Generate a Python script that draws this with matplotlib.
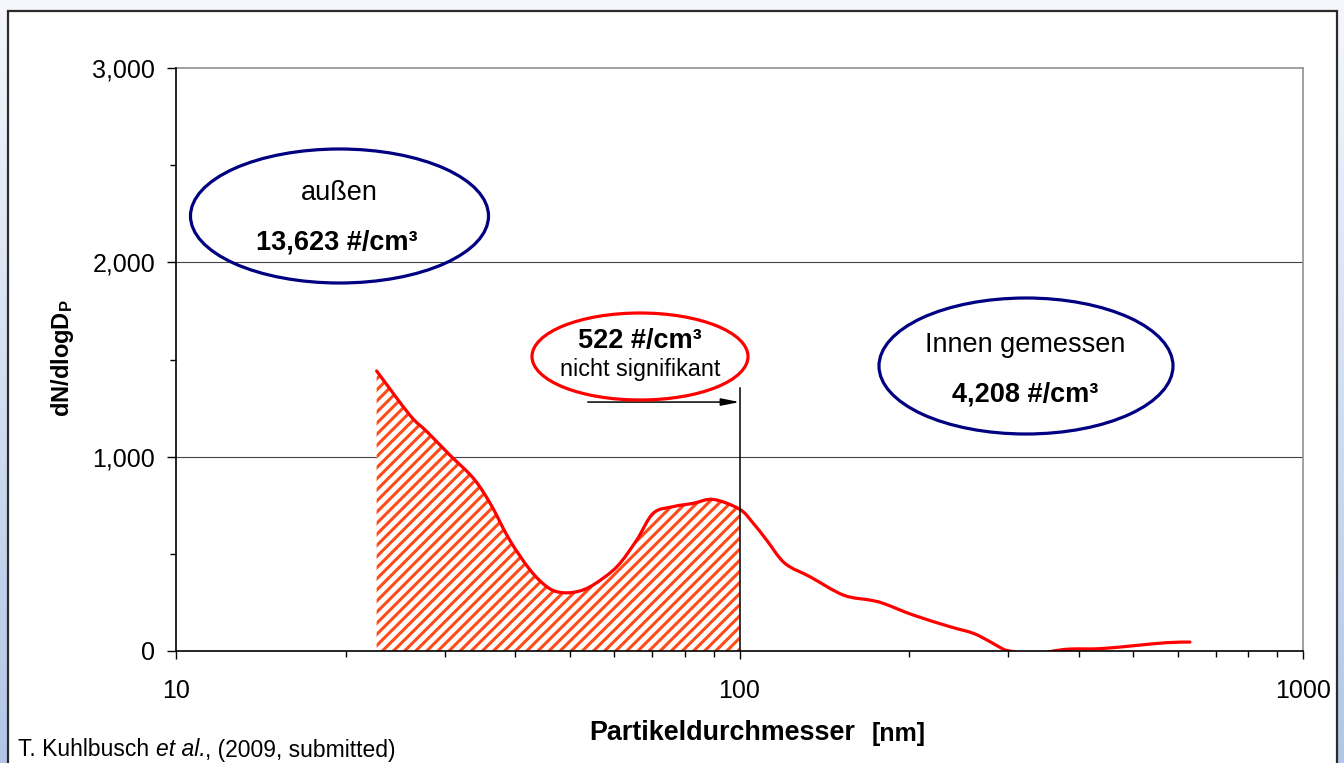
import numpy as np
import matplotlib
matplotlib.use("Agg")
import matplotlib.pyplot as plt
from matplotlib.patches import Ellipse, Rectangle, PathPatch
from matplotlib.path import Path
from matplotlib.ticker import FuncFormatter, FixedLocator, NullFormatter

plt.rcParams['font.family'] = ['Liberation Sans', 'DejaVu Sans']
plt.rcParams['mathtext.fontset'] = 'custom'
plt.rcParams['mathtext.rm'] = 'Liberation Sans'
plt.rcParams['mathtext.it'] = 'Liberation Sans:italic'
plt.rcParams['mathtext.bf'] = 'Liberation Sans:bold'
plt.rcParams['hatch.linewidth'] = 2.2

# ---- data ----
diameter_nm = [22.7, 26.0, 27.9, 30.6, 33.7, 36.1, 39.1, 42.5, 45.5, 48.0, 51.4,
               55.0, 60.6, 65.7, 70.3, 76.3, 82.8, 89.8, 100.0, 105.8, 111.7,
               120.4, 133.4, 152.8, 170.4, 180.0, 203.4, 236.4, 260.0, 278.3,
               293.9, 302.0, 330.0, 360.6, 385.9, 436.2, 499.6, 573.0, 630.0]
dNdlogDp = [1441, 1214, 1128, 1009, 889, 760, 571, 417, 331, 302, 305,
            340, 434, 571, 709, 743, 760, 780, 730, 657, 571,
            451, 382, 288, 262, 245, 185, 125, 91, 48,
            9, 0, -20, 0, 10, 12, 27, 43, 46]
cutoff_nm = 100.0
arrow_start_nm = 53.8
arrow_level = 1281
cutoff_line_top = 1353
y_ticks = [0, 1000, 2000, 3000]
y_minor = [500, 1500, 2500]
x_ticks = [10, 100, 1000]

W, H = 1344, 763
fig = plt.figure(figsize=(W / 100, H / 100), dpi=100)

# background gradient
bg = fig.add_axes([0, 0, 1, 1], zorder=-10)
top_c = np.array([0xf5, 0xf7, 0xfc]) / 255
bot_c = np.array([0xb2, 0xc6, 0xe6]) / 255
t = np.linspace(0, 1, 256)[:, None]
grad = (top_c[None, :] * (1 - t) + bot_c[None, :] * t)[:, None, :]
bg.imshow(grad, extent=[0, 1, 0, 1], aspect='auto', origin='upper')
bg.set_xlim(0, 1); bg.set_ylim(0, 1)
bg.axis('off')
bg.add_patch(Rectangle((7.5 / W, -0.02), (1336.5 - 7.5) / W, 1 - 10.5 / H + 0.02,
                       facecolor='white', edgecolor='#2b2b2b', linewidth=1.6,
                       transform=bg.transAxes))

ax = fig.add_axes([176 / W, 1 - 651 / H, (1303 - 176) / W, (651 - 68) / H])
ax.set_facecolor('white')
ax.set_xscale('log')
ax.set_xlim(10, 1000)
ax.set_ylim(0, 3000)

x = np.array(diameter_nm)
y = np.array(dNdlogDp, dtype=float)


def smooth_segments(xs, ys):
    """Bezier control points (Excel-style smoothed line) in log-x space."""
    u = np.log10(xs)
    n = len(u)
    segs = []
    for i in range(n - 1):
        i0 = max(i - 1, 0)
        i3 = min(i + 2, n - 1)
        c1 = (u[i] + (u[i + 1] - u[i0]) / 6, ys[i] + (ys[i + 1] - ys[i0]) / 6)
        c2 = (u[i + 1] - (u[i3] - u[i]) / 6, ys[i + 1] - (ys[i3] - ys[i]) / 6)
        segs.append((c1, c2, (u[i + 1], ys[i + 1])))
    return segs


def to_data(p):
    return (10 ** p[0], p[1])


segs = smooth_segments(x, y)
verts = [(x[0], y[0])]
codes = [Path.MOVETO]
for c1, c2, p in segs:
    verts += [to_data(c1), to_data(c2), to_data(p)]
    codes += [Path.CURVE4] * 3
curve = PathPatch(Path(verts, codes), facecolor='none', edgecolor='#ff0000',
                  linewidth=2.3, zorder=4, capstyle='round', joinstyle='round')
ax.add_patch(curve)

# hatched area up to cutoff
k = int(np.where(x == cutoff_nm)[0][0])
fverts = [(x[0], 0), (x[0], y[0])]
fcodes = [Path.MOVETO, Path.LINETO]
for c1, c2, p in segs[:k]:
    fverts += [to_data(c1), to_data(c2), to_data(p)]
    fcodes += [Path.CURVE4] * 3
fverts += [(cutoff_nm, 0), (x[0], 0)]
fcodes += [Path.LINETO, Path.CLOSEPOLY]
ax.add_patch(PathPatch(Path(fverts, fcodes), facecolor='white', edgecolor='#ff4a1a',
                       hatch='///', linewidth=0, zorder=2))

ax.plot([cutoff_nm, cutoff_nm], [0, cutoff_line_top], color='black', linewidth=1.1, zorder=5)
ax.annotate('', xy=(cutoff_nm, arrow_level), xytext=(arrow_start_nm, arrow_level),
            arrowprops=dict(arrowstyle='-|>,head_length=1.1,head_width=0.22',
                            color='black', linewidth=1.1, shrinkA=0, shrinkB=0), zorder=5)

# grid / spines / ticks
for yv in y_ticks[1:-1]:
    ax.axhline(yv, color='#444444', linewidth=0.8, zorder=1)
ax.spines['top'].set_color('#999999')
ax.spines['right'].set_color('#999999')
ax.spines['top'].set_linewidth(1.3)
ax.spines['right'].set_linewidth(1.3)
ax.spines['left'].set_linewidth(1.2)
ax.spines['bottom'].set_linewidth(1.2)
for s in ('left', 'bottom'):
    ax.spines[s].set_color('black')
    ax.spines[s].set_zorder(6)

ax.yaxis.set_major_locator(FixedLocator(y_ticks))
ax.yaxis.set_minor_locator(FixedLocator(y_minor))
ax.yaxis.set_major_formatter(FuncFormatter(lambda v, p: f"{int(v):,}"))
ax.xaxis.set_major_locator(FixedLocator(x_ticks))
ax.xaxis.set_major_formatter(FuncFormatter(lambda v, p: f"{int(v)}"))
ax.xaxis.set_minor_formatter(NullFormatter())
ax.tick_params(axis='y', which='major', direction='out', length=6.5, width=1, pad=8.5,
               labelsize=18, color='black')
ax.tick_params(axis='y', which='minor', direction='out', length=4.3, width=1, color='black')
ax.tick_params(axis='x', which='major', direction='out', length=5.8, width=1, pad=14,
               labelsize=18, color='black')
ax.tick_params(axis='x', which='minor', direction='out', length=4.3, width=1, color='black')

# labels
fig.text(62 / W, 1 - 358 / H, r'$\mathbf{dN/dlogD_P}$', rotation=90,
         ha='center', va='center', fontsize=17)
fig.text(722 / W, 1 - 739.5 / H, 'Partikeldurchmesser', ha='center', va='baseline',
         fontsize=19.4, fontweight='bold')
fig.text(872 / W, 1 - 741.5 / H, '[nm]', ha='left', va='baseline',
         fontsize=18, fontweight='bold')

# citation with italic "et al."
renderer = fig.canvas.get_renderer()
xpos = 18
for piece, style in [('T. Kuhlbusch ', 'normal'), ('et al.', 'italic'),
                     (', (2009, submitted)', 'normal')]:
    tx = fig.text(xpos / W, 1 - 756.5 / H, piece, ha='left', va='baseline',
                  fontsize=16.5, fontstyle=style)
    bb = tx.get_window_extent(renderer)
    xpos += bb.width

# ellipses (figure pixel coordinates -> inches)
def px(xp, yp):
    return (xp / 100, (H - yp) / 100)

ells = [((339.5, 216), 298, 134, '#000080'),
        ((1026, 366), 294, 136, '#000080'),
        ((640, 356.5), 216, 87, '#ff0000')]
for (cx, cy), w, h, c in ells:
    e = Ellipse(px(cx, cy), w / 100, h / 100, facecolor='none', edgecolor=c,
                linewidth=2.3, transform=fig.dpi_scale_trans, zorder=10)
    fig.add_artist(e)

def label(xp, yp, s, size, bold=False):
    fig.text(xp / W, 1 - yp / H, s, ha='center', va='baseline', fontsize=size,
             fontweight='bold' if bold else 'normal', zorder=11)

label(339, 200, 'außen', 19.5)
label(337, 249, '13,623 #/cm³', 19.5, True)
label(1025, 351.7, 'Innen gemessen', 19.5)
label(1025, 401.7, '4,208 #/cm³', 19.5, True)
label(640, 347.7, '522 #/cm³', 19.5, True)
label(640, 376, 'nicht signifikant', 16.8)

fig.savefig('out.png', dpi=100)
